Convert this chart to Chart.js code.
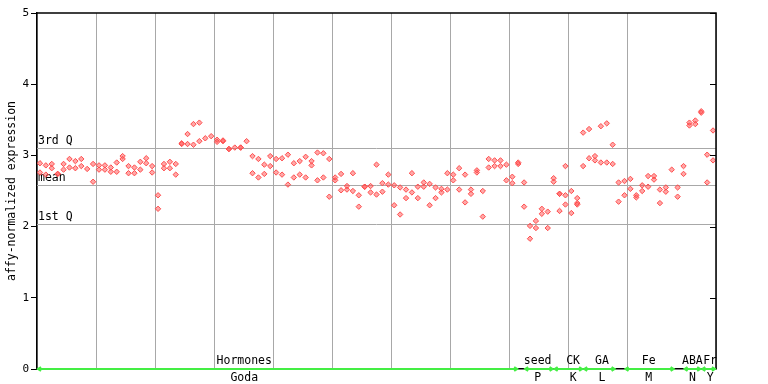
<!DOCTYPE html>
<html>
<head>
<meta charset="utf-8">
<script src="https://cdn.jsdelivr.net/npm/chart.js@4.4.1/dist/chart.umd.min.js"></script>
<style>
    body { margin: 0; background: #fff; }
    canvas { display: block; }
</style>
</head>
<body>
<canvas id="data-chart" width="768" height="384"></canvas>
<script>
        // replicate values per sample position (null = no point)
        const repA = [
            2.89, 2.86, 2.88, 2.74, 2.88, 2.95, 2.92, 2.95, 2.81, 2.88,
            2.86, 2.86, 2.83, 2.90, 2.99, 2.85, 2.83, 2.91, 2.96, 2.85,
            2.44, 2.88, 2.91, 2.88, 3.17, 3.30, 3.44, 3.46, 3.24, 3.27,
            3.22, 3.21, 3.09, 3.11, 3.11, 3.20, 2.99, 2.95, 2.87, 2.99,
            2.95, 2.96, 3.01, 2.89, 2.92, 2.98, 2.92, 3.04, 3.03, 2.95,
            2.69, 2.74, 2.57, 2.75, 2.44, 2.56, 2.57, 2.87, 2.61, 2.73,
            2.58, 2.55, 2.52, 2.75, 2.56, 2.62, 2.60, 2.55, 2.53, 2.75,
            2.73, 2.82, 2.73, 2.52, 2.79, 2.50, 2.95, 2.93, 2.93, 2.87,
            2.70, 2.90, 2.62, 2.01, 2.08, 2.25, 2.21, 2.68, 2.46, 2.85,
            2.50, 2.40, 3.32, 3.37, 2.99, 3.41, 3.45, 3.15, 2.62, 2.64,
            2.67, 2.44, 2.58, 2.71, 2.71, 2.52, 2.55, 2.80, 2.55, 2.85,
            3.46, 3.49, 3.62, 3.01, 3.35
        ];
        const repB = [
            2.76, 2.73, 2.82, 2.74, 2.80, 2.83, 2.82, 2.85, null, 2.63,
            2.80, 2.80, 2.77, 2.77, 2.95, 2.75, 2.75, 2.80, 2.89, 2.76,
            2.25, 2.82, 2.82, 2.73, 3.16, 3.16, 3.15, 3.20, null, null,
            3.19, 3.20, 3.09, null, 3.11, null, 2.75, 2.69, 2.74, 2.85,
            2.76, 2.73, 2.59, 2.69, 2.73, 2.69, 2.86, 2.65, 2.69, 2.42,
            2.65, 2.51, 2.52, 2.50, 2.28, 2.56, 2.48, 2.45, 2.49, 2.59,
            2.30, 2.17, 2.40, 2.48, 2.40, 2.56, 2.30, 2.40, 2.48, 2.52,
            2.65, 2.52, 2.34, 2.46, 2.76, 2.14, 2.83, 2.85, 2.85, 2.65,
            2.61, 2.88, 2.28, 1.83, 1.98, 2.18, 1.98, 2.63, 2.22, 2.44,
            2.19, 2.33, 2.85, 2.96, 2.93, 2.90, 2.90, 2.88, 2.35, 2.44,
            2.53, 2.41, 2.50, 2.56, 2.66, 2.33, 2.49, null, 2.42, 2.74,
            3.42, 3.44, 3.60, 2.62, 2.93
        ];
        // a few positions carry a third replicate
        const repCIndex = [88, 89, 91];
        const repCValue = [2.46, 2.31, 2.31];

        const q3Value = 3.10;
        const meanValue = 2.58;
        const q1Value = 2.03;

        const groupNames = ['Hormones', 'seed', 'CK', 'GA', 'Fe', 'ABA', 'Fr'];
        const groupSubs = ['Goda', 'P', 'K', 'L', 'M', 'N', 'Y'];
        const groupStart = [0, 82.5, 87.5, 92.5, 99.5, 109.5, 112.5];
        const groupEnd = [81.5, 87.5, 92.5, 98, 108, 112.5, 115];
        const groupLabelAt = [35.1, 84.8, 90.8, 95.7, 103.6, 111, 114];

        const monoFont = "'DejaVu Sans Mono', monospace";

        let points = [];
        repA.forEach((v, i) => { if (v !== null) points.push({ x: i + 0.5, y: v }); });
        repB.forEach((v, i) => { if (v !== null) points.push({ x: i + 0.5, y: v }); });
        repCIndex.forEach((idx, k) => points.push({ x: idx + 0.5, y: repCValue[k] }));

        const extrasPlugin = {
            id: 'extras',
            beforeDatasetsDraw(chart) {
                const { ctx, chartArea, scales: { y } } = chart;
                ctx.save();
                ctx.strokeStyle = '#a8a8a8';
                ctx.lineWidth = 1;
                ctx.fillStyle = '#000';
                ctx.font = '11.5px ' + monoFont;
                ctx.textAlign = 'left';
                ctx.textBaseline = 'bottom';
                [[q3Value, '3rd Q'], [meanValue, 'mean'], [q1Value, '1st Q']].forEach(([v, txt]) => {
                    const py = Math.round(y.getPixelForValue(v)) + 0.5;
                    ctx.beginPath();
                    ctx.moveTo(chartArea.left, py);
                    ctx.lineTo(chartArea.right, py);
                    ctx.stroke();
                    ctx.fillText(txt, chartArea.left + 1, py - 2);
                });
                ctx.restore();
            },
            afterDraw(chart) {
                const { ctx, chartArea, scales: { x, y } } = chart;
                ctx.save();
                // top and right frame
                ctx.strokeStyle = '#000';
                ctx.lineWidth = 1.5;
                ctx.beginPath();
                ctx.moveTo(chartArea.left, chartArea.top);
                ctx.lineTo(chartArea.right, chartArea.top);
                ctx.lineTo(chartArea.right, chartArea.bottom);
                ctx.stroke();
                // inner ticks on the right side
                ctx.lineWidth = 1;
                for (let v = 0; v <= 5; v++) {
                    const py = Math.round(y.getPixelForValue(v)) + 0.5;
                    ctx.beginPath();
                    ctx.moveTo(chartArea.right - 6, py);
                    ctx.lineTo(chartArea.right, py);
                    ctx.stroke();
                }
                // green group bars along the bottom
                const base = chartArea.bottom;
                ctx.strokeStyle = '#44ee44';
                ctx.lineWidth = 2;
                groupNames.forEach((name, i) => {
                    const x0 = x.getPixelForValue(groupStart[i]);
                    const x1 = x.getPixelForValue(groupEnd[i]);
                    ctx.beginPath();
                    ctx.moveTo(x0, base);
                    ctx.lineTo(x1, base);
                    ctx.moveTo(x0 + 4, base - 2);
                    ctx.lineTo(x0 + 1, base);
                    ctx.lineTo(x0 + 4, base + 2);
                    ctx.moveTo(x1 - 4, base - 2);
                    ctx.lineTo(x1 - 1, base);
                    ctx.lineTo(x1 - 4, base + 2);
                    ctx.stroke();
                });
                ctx.fillStyle = '#000';
                ctx.font = '11.5px ' + monoFont;
                ctx.textAlign = 'center';
                groupNames.forEach((name, i) => {
                    const px = x.getPixelForValue(groupLabelAt[i]);
                    ctx.textBaseline = 'bottom';
                    ctx.fillText(name, px, base - 2);
                    ctx.textBaseline = 'top';
                    ctx.fillText(groupSubs[i], px, base + 3);
                });
                ctx.restore();
            }
        };

        const ctx = document.getElementById('data-chart').getContext('2d');

        new Chart(ctx, {
            type: 'scatter',
            data: {
                datasets: [{
                    data: points,
                    pointStyle: 'rectRot',
                    pointRadius: 2.7,
                    pointBorderWidth: 1,
                    backgroundColor: 'rgba(255, 80, 80, 0.5)',
                    borderColor: '#ff4d4d'
                }]
            },
            options: {
                responsive: false,
                animation: false,
                layout: { padding: { top: 13, right: 52, left: 0, bottom: 0 } },
                plugins: {
                    legend: { display: false },
                    tooltip: { enabled: false }
                },
                scales: {
                    x: {
                        type: 'linear',
                        min: 0,
                        max: 115,
                        ticks: { display: false, stepSize: 10 },
                        grid: { color: '#a8a8a8', drawTicks: false },
                        border: { color: '#000', width: 1.5 },
                        afterFit: (scale) => { scale.height = 15; }
                    },
                    y: {
                        min: 0,
                        max: 5,
                        ticks: {
                            stepSize: 1,
                            color: '#000',
                            padding: 2,
                            font: { family: monoFont, size: 11 }
                        },
                        grid: { drawOnChartArea: false, tickLength: 6, tickColor: '#000' },
                        border: { color: '#000', width: 1.5 },
                        title: {
                            display: true,
                            text: 'affy-normalized expression',
                            color: '#000',
                            padding: { top: 5, bottom: 0 },
                            font: { family: monoFont, size: 11.5 }
                        },
                        afterFit: (scale) => { scale.width = 37; }
                    }
                }
            },
            plugins: [extrasPlugin]
        });
</script>
</body>
</html>
